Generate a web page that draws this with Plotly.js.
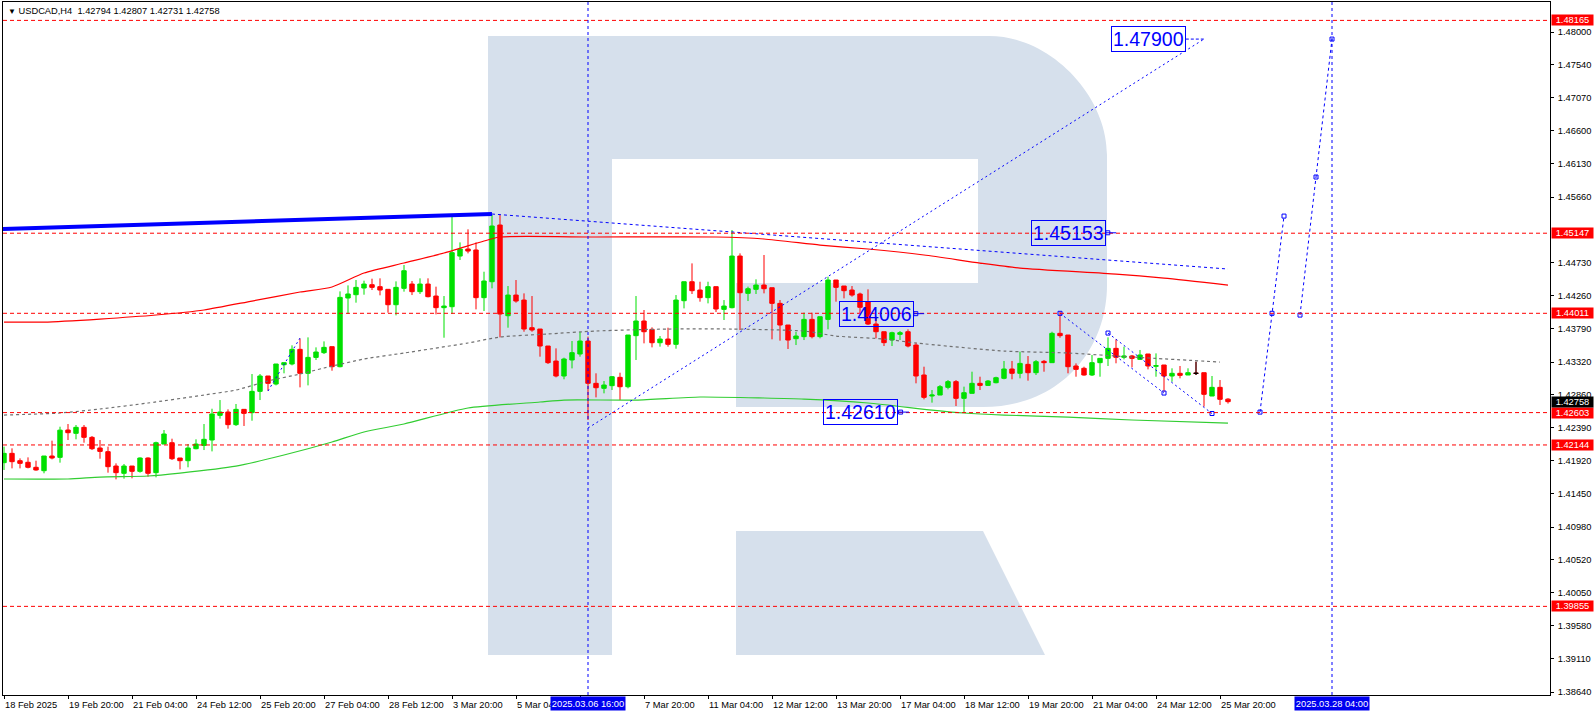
<!DOCTYPE html>
<html>
<head>
<meta charset="utf-8">
<script src="https://cdn.plot.ly/plotly-3.0.1.min.js"></script>
<style>
html,body{margin:0;padding:0;background:#fff;}
#chart{width:1596px;height:716px;}
</style>
</head>
<body>
<div id="chart"></div>
<script>
// ---------------- DATA ----------------
const symbolTitle = 'USDCAD,H4';
const lastBarOHLC = [1.42794, 1.42807, 1.42731, 1.42758];

const openPrices = [
1.41893,1.42025,1.41921,1.41898,1.41827,1.41779,1.41987,1.41968,1.42356,1.42309,
1.42394,1.42252,1.42101,1.42049,1.41845,1.41742,1.41845,1.41770,1.41959,1.41751,
1.42157,1.42176,1.41959,1.41921,1.42091,1.42138,1.42214,1.42564,1.42611,1.42432,
1.42649,1.42602,1.42904,1.43122,1.43008,1.43282,1.43292,1.43500,1.43160,1.43386,
1.43453,1.43538,1.43254,1.44228,1.44275,1.44370,1.44417,1.44389,1.44351,1.44133,
1.44365,1.44426,1.44318,1.44426,1.44256,1.44091,1.44105,1.44823,1.44923,1.44909,
1.44233,1.44459,1.45263,1.43977,1.44270,1.44199,1.43807,1.43788,1.43547,1.43334,
1.43122,1.43349,1.43434,1.43618,1.43018,1.42947,1.42985,1.43103,1.42970,1.43694,
1.43902,1.43783,1.43594,1.43646,1.43571,1.44190,1.44459,1.44341,1.44233,1.44389,
1.44067,1.44091,1.44823,1.44294,1.44351,1.44412,1.44374,1.44152,1.43845,1.43651,
1.43680,1.43925,1.43680,1.43925,1.44483,1.44398,1.44341,1.44285,1.44176,1.43859,
1.43750,1.43632,1.43713,1.43750,1.43561,1.43136,1.42838,1.42852,1.42961,1.43042,
1.42805,1.42876,1.43018,1.42989,1.43027,1.43089,1.43221,1.43160,1.43287,1.43169,
1.43330,1.43311,1.43727,1.43703,1.43264,1.43231,1.43136,1.43311,1.43372,1.43514,
1.43387,1.43406,1.43358,1.43434,1.43259,1.43278,1.43122,1.43160,1.43136,1.43160,
1.43169,1.42838,1.42961,1.42794];

const highPrices = [
1.42120,1.42096,1.41954,1.41968,1.41921,1.41987,1.42205,1.42403,1.42441,1.42427,
1.42427,1.42271,1.42214,1.42120,1.41883,1.41874,1.41845,1.41968,1.41968,1.42191,
1.42356,1.42233,1.41959,1.42157,1.42224,1.42441,1.42658,1.42781,1.42649,1.42725,
1.42649,1.43150,1.43150,1.43122,1.43292,1.43311,1.43557,1.43651,1.43670,1.43528,
1.43613,1.43538,1.44322,1.44407,1.44483,1.44474,1.44502,1.44507,1.44351,1.44464,
1.44696,1.44469,1.44507,1.44507,1.44389,1.44256,1.45391,1.45017,1.45202,1.45017,
1.44601,1.45405,1.45405,1.44398,1.44483,1.44294,1.44256,1.43788,1.43547,1.43514,
1.43382,1.43618,1.43750,1.43680,1.43160,1.43051,1.43122,1.43169,1.43703,1.44256,
1.44058,1.43812,1.43689,1.43807,1.44270,1.44459,1.44719,1.44459,1.44459,1.44389,
1.44199,1.45192,1.44861,1.44389,1.44493,1.44838,1.44374,1.44199,1.43845,1.43750,
1.44020,1.44020,1.43963,1.44530,1.44483,1.44398,1.44398,1.44304,1.44351,1.43963,
1.43750,1.43750,1.43760,1.43784,1.43595,1.43254,1.42923,1.42994,1.43065,1.43065,
1.42971,1.43183,1.43112,1.43065,1.43112,1.43335,1.43335,1.43467,1.43405,1.43349,
1.43349,1.43750,1.44034,1.43703,1.43301,1.43254,1.43420,1.43372,1.43670,1.43642,
1.43538,1.43420,1.43491,1.43434,1.43443,1.43278,1.43231,1.43264,1.43231,1.43325,
1.43169,1.43122,1.43065,1.42807];

const lowPrices = [
1.41789,1.41812,1.41812,1.41812,1.41779,1.41742,1.41940,1.41893,1.42214,1.42224,
1.42176,1.42072,1.41949,1.41751,1.41656,1.41666,1.41671,1.41751,1.41694,1.41685,
1.42157,1.41931,1.41798,1.41827,1.42082,1.42072,1.42053,1.42517,1.42375,1.42413,
1.42413,1.42488,1.42781,1.42914,1.42989,1.43160,1.43273,1.42961,1.42989,1.43349,
1.43434,1.43197,1.43245,1.44001,1.44162,1.44275,1.44341,1.44266,1.44020,1.43982,
1.44318,1.44270,1.44285,1.44237,1.43996,1.43665,1.44001,1.44767,1.44861,1.44067,
1.44044,1.44365,1.43670,1.43807,1.44162,1.43750,1.43750,1.43396,1.43292,1.43103,
1.43075,1.43230,1.43396,1.42498,1.42819,1.42876,1.42923,1.42781,1.42947,1.43349,
1.43585,1.43528,1.43538,1.43538,1.43509,1.44081,1.44285,1.44176,1.44152,1.44029,
1.43916,1.44081,1.43774,1.44185,1.44285,1.44294,1.43642,1.43623,1.43505,1.43561,
1.43632,1.43656,1.43656,1.43784,1.44176,1.44223,1.44247,1.44001,1.43845,1.43656,
1.43547,1.43547,1.43632,1.43528,1.43018,1.42791,1.42744,1.42852,1.42933,1.42696,
1.42602,1.42876,1.42923,1.42980,1.43018,1.43075,1.43075,1.43089,1.43056,1.43136,
1.43183,1.43311,1.43665,1.43160,1.43112,1.43127,1.43122,1.43112,1.43264,1.43302,
1.43358,1.43245,1.43349,1.43216,1.43112,1.42900,1.43041,1.43089,1.43136,1.43136,
1.42687,1.42838,1.42711,1.42731];

const closePrices = [
1.42025,1.41907,1.41883,1.41827,1.41789,1.41987,1.41959,1.42354,1.42318,1.42394,
1.42252,1.42091,1.42053,1.41836,1.41751,1.41845,1.41770,1.41959,1.41742,1.42176,
1.42299,1.41949,1.41921,1.42101,1.42157,1.42224,1.42583,1.42611,1.42432,1.42649,
1.42592,1.42904,1.43122,1.43018,1.43292,1.43311,1.43500,1.43160,1.43386,1.43462,
1.43528,1.43254,1.44237,1.44285,1.44379,1.44426,1.44379,1.44341,1.44133,1.44379,
1.44615,1.44318,1.44426,1.44247,1.44091,1.44114,1.44871,1.44923,1.44894,1.44233,
1.44469,1.45249,1.44001,1.44270,1.44185,1.43788,1.43774,1.43547,1.43311,1.43122,
1.43363,1.43453,1.43618,1.43018,1.42956,1.42994,1.43112,1.42970,1.43703,1.43902,
1.43750,1.43594,1.43646,1.43571,1.44199,1.44459,1.44332,1.44233,1.44389,1.44072,
1.44114,1.44823,1.44303,1.44360,1.44412,1.44360,1.44152,1.43845,1.43632,1.43689,
1.43925,1.43680,1.43963,1.44483,1.44379,1.44332,1.44270,1.44096,1.43859,1.43750,
1.43595,1.43736,1.43736,1.43547,1.43122,1.42819,1.42852,1.42971,1.43042,1.42805,
1.42885,1.43018,1.42989,1.43051,1.43098,1.43221,1.43160,1.43301,1.43169,1.43325,
1.43311,1.43727,1.43694,1.43254,1.43216,1.43136,1.43311,1.43372,1.43514,1.43387,
1.43406,1.43372,1.43420,1.43264,1.43269,1.43122,1.43160,1.43131,1.43169,1.43160,
1.42862,1.42961,1.42791,1.42758];

// moving averages (bar index, value)
const maRedBars   = [0,5,12,19,25,31,37,41,45,50,55,60,62,74,89,95,102,108,115,122,127,139,145,153];
const maRedVals   = [1.43887,1.43887,1.43930,1.43987,1.44058,1.44185,1.44313,1.44384,1.44582,1.44724,1.44866,1.45036,1.45093,1.45093,1.45093,1.45065,1.44979,1.44923,1.44838,1.44724,1.44653,1.44568,1.44511,1.44412];
const maGrayBars  = [0,7,12,18,25,29,33,37,40,45,50,58,62,68,74,83,91,100,104,110,114,125,133,141,152];
const maGrayVals  = [1.42568,1.42597,1.42654,1.42739,1.42852,1.42923,1.43051,1.43150,1.43235,1.43363,1.43448,1.43590,1.43675,1.43718,1.43760,1.43788,1.43788,1.43760,1.43689,1.43646,1.43590,1.43476,1.43448,1.43391,1.43320];
const maGreenBars = [0,8,12,18,22,29,35,41,45,50,58,67,70,79,87,95,100,108,116,120,125,133,141,153];
const maGreenVals = [1.41661,1.41661,1.41689,1.41704,1.41746,1.41845,1.42001,1.42186,1.42328,1.42441,1.42668,1.42753,1.42781,1.42781,1.42824,1.42810,1.42795,1.42739,1.42639,1.42597,1.42568,1.42540,1.42498,1.42455];

// drawn objects
const levelPrices = [1.48165, 1.45147, 1.44011, 1.42603, 1.42144, 1.39855];
const channelTopBars = [-0.5, 61];      const channelTopVals = [1.45204, 1.45419];
const channelDashBars = [61, 153];      const channelDashVals = [1.45419, 1.44639];
const targetLineBars = [73, 150];       const targetLineVals = [1.42384, 1.47900];
const earlyDotBars = [33, 37];          const earlyDotVals = [1.42909, 1.43660];
const zigABars = [132, 145];            const zigAVals = [1.44011, 1.42880];
const zigBBars = [138, 151];            const zigBVals = [1.43731, 1.42590];
const fcst1Bars = [157, 158.5, 160];    const fcst1Vals = [1.42610, 1.44011, 1.45390];
const fcst2Bars = [162, 164, 166];      const fcst2Vals = [1.43986, 1.45944, 1.47900];
const priceTags = ['1.47900','1.45153','1.44006','1.42610'];
const priceTagBars = [143.1, 133, 109, 107.1];
const dateLineBars = [73, 166];
const dateLineLabels = ['2025.03.06 16:00', '2025.03.28 04:00'];

const xTickBars = [0,8,16,24,32,40,48,56,64,72,80,88,96,104,112,120,128,136,144,152];
const xTickLabels = ['18 Feb 2025','19 Feb 20:00','21 Feb 04:00','24 Feb 12:00','25 Feb 20:00','27 Feb 04:00','28 Feb 12:00','3 Mar 20:00','5 Mar 04:00','','7 Mar 20:00','11 Mar 04:00','12 Mar 12:00','13 Mar 20:00','17 Mar 04:00','18 Mar 12:00','19 Mar 20:00','21 Mar 04:00','24 Mar 12:00','25 Mar 20:00'];
const yTickVals = [1.48000,1.47540,1.47070,1.46600,1.46130,1.45660,1.44730,1.44260,1.43790,1.43320,1.42860,1.42390,1.41920,1.41450,1.40980,1.40520,1.40050,1.39580,1.39110,1.38640];

// ---------------- STYLE / LAYOUT ----------------
const W = 1596, H = 716;
const M = {l:3, r:46, t:2, b:21};
const PW = W - M.l - M.r, PH = H - M.t - M.b;
const FONT = 'Liberation Sans, Arial, sans-serif';
const FS = 9.3;
const GREEN = '#00e000', RED = '#ff0000', BLUE = '#0000ff', WM = 'rgb(214,224,236)';
const BAR_PX = 8;           // pixels per bar
const TAG_HALF = 37 / BAR_PX; // half width of a price tag box, in bars

const idx = openPrices.map((_, i) => i);
const dojiIdx = idx.filter(i => openPrices[i] === closePrices[i]);

function P(x, y) { return ((x - M.l) / PW).toFixed(5) + ',' + ((H - M.b - y) / PH).toFixed(5); }
const rPath = 'M' + P(488,36) + ' L' + P(989,36) + ' C' + P(1050,36) + ' ' + P(1107,95) + ' ' + P(1107,155) +
  ' L' + P(1107,285) + ' C' + P(1107,350) + ' ' + P(1060,407) + ' ' + P(983,407) +
  ' L' + P(736,407) + ' L' + P(736,283) + ' L' + P(978,283) + ' L' + P(978,159) + ' L' + P(612,159) +
  ' L' + P(612,655) + ' L' + P(488,655) + ' Z';
const legPath = 'M' + P(736,531) + ' L' + P(983,531) + ' L' + P(1045,655) + ' L' + P(736,655) + ' Z';

const tagVals = priceTags.map(t => parseFloat(t));
const tailMarkX = priceTagBars.slice(1).map(b => b + TAG_HALF + 0.35);
const tailMarkY = tagVals.slice(1);

const traces = [
  {type:'candlestick', x: idx, open: openPrices, high: highPrices, low: lowPrices, close: closePrices,
   increasing:{line:{color:GREEN, width:1}, fillcolor:GREEN},
   decreasing:{line:{color:RED, width:1}, fillcolor:RED},
   whiskerwidth:0, hoverinfo:'skip', showlegend:false},
  {type:'candlestick', x: dojiIdx, open: dojiIdx.map(i=>openPrices[i]), high: dojiIdx.map(i=>highPrices[i]),
   low: dojiIdx.map(i=>lowPrices[i]), close: dojiIdx.map(i=>closePrices[i]),
   increasing:{line:{color:'#000', width:1}, fillcolor:'#000'},
   decreasing:{line:{color:'#000', width:1}, fillcolor:'#000'},
   whiskerwidth:0, hoverinfo:'skip', showlegend:false},
  {type:'scatter', mode:'lines', x: maRedBars, y: maRedVals, line:{color:'#ff0000', width:1.2, shape:'spline', smoothing:0.6}, hoverinfo:'skip', showlegend:false},
  {type:'scatter', mode:'lines', x: maGrayBars, y: maGrayVals, line:{color:'#707070', width:1.2, dash:'3px,3px', shape:'spline', smoothing:0.6}, hoverinfo:'skip', showlegend:false},
  {type:'scatter', mode:'lines', x: maGreenBars, y: maGreenVals, line:{color:'#32cd32', width:1.2, shape:'spline', smoothing:0.6}, hoverinfo:'skip', showlegend:false},
  {type:'scatter', mode:'lines', x: channelTopBars, y: channelTopVals, line:{color:BLUE, width:4}, hoverinfo:'skip', showlegend:false},
  {type:'scatter', mode:'lines', x: channelDashBars, y: channelDashVals, line:{color:BLUE, width:1, dash:'3px,3px'}, hoverinfo:'skip', showlegend:false},
  {type:'scatter', mode:'lines', x: targetLineBars, y: targetLineVals, line:{color:BLUE, width:1, dash:'2px,3px'}, hoverinfo:'skip', showlegend:false},
  {type:'scatter', mode:'lines', x: earlyDotBars, y: earlyDotVals, line:{color:BLUE, width:1, dash:'2px,3px'}, hoverinfo:'skip', showlegend:false},
  {type:'scatter', mode:'lines+markers', x: zigABars, y: zigAVals, line:{color:BLUE, width:1, dash:'2px,3px'}, marker:{symbol:'square-open', size:4, color:BLUE}, hoverinfo:'skip', showlegend:false},
  {type:'scatter', mode:'lines+markers', x: zigBBars, y: zigBVals, line:{color:BLUE, width:1, dash:'2px,3px'}, marker:{symbol:'square-open', size:4, color:BLUE}, hoverinfo:'skip', showlegend:false},
  {type:'scatter', mode:'lines+markers', x: fcst1Bars, y: fcst1Vals, line:{color:BLUE, width:1, dash:'3px,3px'}, marker:{symbol:'square-open', size:4, color:BLUE}, hoverinfo:'skip', showlegend:false},
  {type:'scatter', mode:'lines+markers', x: fcst2Bars, y: fcst2Vals, line:{color:BLUE, width:1, dash:'3px,3px'}, marker:{symbol:'square-open', size:4, color:BLUE}, hoverinfo:'skip', showlegend:false},
  {type:'scatter', mode:'markers', x: tailMarkX, y: tailMarkY, marker:{symbol:'square-open', size:4, color:BLUE}, hoverinfo:'skip', showlegend:false}
];

const shapes = [
  {type:'path', xref:'paper', yref:'paper', path: rPath, fillcolor: WM, line:{width:0}, layer:'below'},
  {type:'path', xref:'paper', yref:'paper', path: legPath, fillcolor: WM, line:{width:0}, layer:'below'}
];
levelPrices.forEach(p => shapes.push({type:'line', xref:'paper', x0:0, x1:1, yref:'y', y0:p, y1:p,
  line:{color:RED, width:1, dash:'4px,3px'}, layer:'above'}));
dateLineBars.forEach(b => shapes.push({type:'line', xref:'x', x0:b, x1:b, yref:'paper', y0:0, y1:1,
  line:{color:BLUE, width:1, dash:'3px,3px'}, layer:'above'}));
// tag tails
priceTagBars.forEach((b, i) => {
  const x0 = b + TAG_HALF;
  const x1 = i === 0 ? targetLineBars[1] : x0 + 1.4;
  shapes.push({type:'line', xref:'x', yref:'y', x0:x0, x1:x1, y0:tagVals[i], y1:tagVals[i],
    line:{color:BLUE, width:1, dash: i === 0 ? '3px,2px' : 'solid'}, layer:'above'});
});

const annotations = [];
// title
annotations.push({xref:'paper', yref:'paper', x:0, y:1, xanchor:'left', yanchor:'top', xshift:3, yshift:-2,
  showarrow:false, align:'left',
  text:'<span style="font-size:8px">▼</span> ' + symbolTitle + '\u00a0\u00a0' + lastBarOHLC.map(v=>v.toFixed(5)).join(' '),
  font:{family:FONT, size:FS, color:'#000'}});
// x labels
xTickBars.forEach((b, i) => { if (xTickLabels[i]) annotations.push({xref:'x', yref:'paper', x:b, y:0, xanchor:'left', yanchor:'top',
  yshift:-3, xshift:-1, showarrow:false, text:xTickLabels[i], font:{family:FONT, size:FS, color:'#000'}}); });
// date boxes
dateLineBars.forEach((b, i) => annotations.push({xref:'x', yref:'paper', x:b, y:0, xanchor:'center', yanchor:'top',
  yshift:-1, showarrow:false, text:dateLineLabels[i], bgcolor:'#0000f0', width:74, height:13, borderpad:0,
  font:{family:FONT, size:FS, color:'#fff'}}));
// right price boxes
levelPrices.forEach(p => annotations.push({xref:'paper', yref:'y', x:1, y:p, xanchor:'left', yanchor:'middle',
  xshift:1, showarrow:false, text:p.toFixed(5), bgcolor:RED, width:41, height:10, borderpad:0,
  font:{family:FONT, size:FS, color:'#fff'}}));
annotations.push({xref:'paper', yref:'y', x:1, y:closePrices[closePrices.length-1], xanchor:'left', yanchor:'middle',
  xshift:1, showarrow:false, text:closePrices[closePrices.length-1].toFixed(5), bgcolor:'#000', width:41, height:10, borderpad:0,
  font:{family:FONT, size:FS, color:'#fff'}});
// blue price tags
priceTags.forEach((t, i) => annotations.push({xref:'x', yref:'y', x:priceTagBars[i], y:tagVals[i], xanchor:'center', yanchor:'middle',
  showarrow:false, text:t, bordercolor:BLUE, borderwidth:1, borderpad:1,
  font:{family:FONT, size:19.5, color:BLUE}}));

const layout = {
  width: W, height: H,
  margin: M,
  paper_bgcolor:'#fff', plot_bgcolor:'#fff',
  showlegend:false,
  boxgap:0.45, boxgroupgap:0,
  xaxis:{type:'linear', range:[-0.125, 193.25], rangeslider:{visible:false}, showgrid:false, zeroline:false,
    showline:true, mirror:true, linecolor:'#000', linewidth:1,
    tickmode:'array', tickvals:xTickBars, ticks:'outside', ticklen:3, tickcolor:'#000', showticklabels:false, fixedrange:true},
  yaxis:{range:[1.38598, 1.48426], side:'right', showgrid:false, zeroline:false,
    showline:true, mirror:true, linecolor:'#000', linewidth:1,
    tickmode:'array', tickvals:yTickVals, ticktext:yTickVals.map(v=>v.toFixed(5)),
    ticks:'outside', ticklen:3, tickcolor:'#000', ticklabelstandoff:2,
    tickfont:{family:FONT, size:FS, color:'#000'}, fixedrange:true},
  shapes: shapes,
  annotations: annotations
};

Plotly.newPlot('chart', traces, layout, {staticPlot:true, displayModeBar:false});
</script>
</body>
</html>
